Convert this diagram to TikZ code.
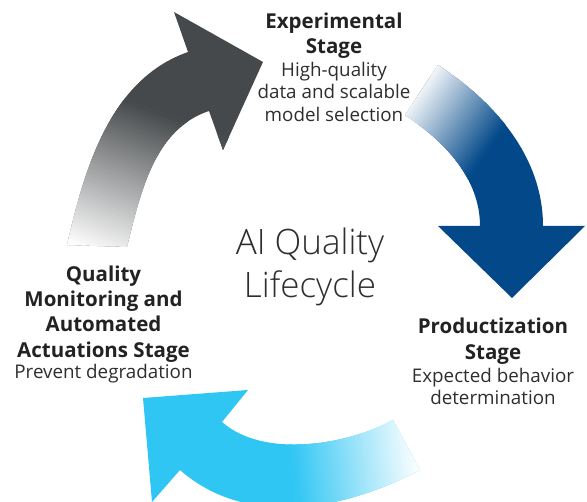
\documentclass[tikz,border=0pt]{standalone}
\usepackage{fontspec}
\setmainfont{Open Sans}
\newfontfamily\lightfont{Open Sans Light}
\usetikzlibrary{calc}
\definecolor{arrgray}{HTML}{46494B}
\definecolor{arrblue}{HTML}{03498A}
\definecolor{arrcyan}{HTML}{30C6F4}
\definecolor{txtdark}{HTML}{222222}
\definecolor{txtbody}{HTML}{2E2E2E}
\newcommand\gradshape[4]{%
  \begin{scope}
    \clip #1;
    \fill[#2] (-10,-10) rectangle (600,520);
    \path ($(#3)!-6!(#4)$) coordinate (g0) ($(#3)!0.01!(#4)$) coordinate (g0b);
    \fill[white] ($(g0)!900pt!90:(g0b)$) -- ($(g0b)!900pt!-90:(g0)$) -- ($(g0b)!900pt!90:(g0)$) -- ($(g0)!900pt!-90:(g0b)$) -- cycle;
    \foreach \k in {0,...,49}{
      \pgfmathsetmacro\ta{\k/50}
      \pgfmathsetmacro\tb{(\k+1.5)/50}
      \pgfmathtruncatemacro\pc{round(100*(\k+0.5)/50)}
      \path ($(#3)!\ta!(#4)$) coordinate (g1) ($(#3)!\tb!(#4)$) coordinate (g2);
      \fill[#2!\pc!white] ($(g1)!500pt!90:(g2)$) -- ($(g2)!500pt!-90:(g1)$) -- ($(g2)!500pt!90:(g1)$) -- ($(g1)!500pt!-90:(g2)$) -- cycle;
    }
  \end{scope}}
\def\grayshape{(67,245) .. controls (85,166) and (111,79) .. (188,52) -- (174,12) -- (263,62) -- (223,150) -- (209,111) .. controls (155,129) and (141,190) .. (127,247) -- cycle}
\def\blueshape{(438,65) .. controls (495,102) and (543,157) .. (543,226) -- (585,226) -- (512,298) -- (438,226) -- (480,226) .. controls (480,178) and (444,141) .. (405,115) -- cycle}
\def\cyanshape{(393,420) .. controls (345,446) and (263,458) .. (222,422) -- (248,390) -- (143,398) -- (152,502) -- (180,470) .. controls (246,528) and (343,511) .. (420,470) -- cycle}
\tikzset{
  ttl/.style={font=\fontsize{20.5}{24}\selectfont\bfseries, text=txtdark, anchor=base, inner sep=0pt},
  dsc/.style={font=\fontsize{18.8}{22}\selectfont, text=txtbody, anchor=base, inner sep=0pt},
  bigt/.style={font=\lightfont\fontsize{35}{40}\selectfont, text=txtbody, anchor=base, inner sep=0pt}
}
\begin{document}
\begin{tikzpicture}[x=1pt,y=-1pt]
\useasboundingbox (0,0) rectangle (587,502);
\clip (0,0) rectangle (587,502);
% gradient reference points
\coordinate (grA) at (85,250);
\coordinate (grB) at (140,105);
\coordinate (blA) at (418,86);
\coordinate (blB) at (495,140);
\coordinate (cyA) at (418,448);
\coordinate (cyB) at (292,462);
\gradshape{\grayshape}{arrgray}{grA}{grB}
\gradshape{\blueshape}{arrblue}{blA}{blB}
\gradshape{\cyanshape}{arrcyan}{cyA}{cyB}
% Experimental
\node[ttl] (e1) at (334,29) {Experimental};
\node[ttl] (e2) at (334,53.5) {Stage};
\node[dsc] (e3) at (334,77) {High-quality};
\node[dsc] (e4) at (334,99) {data and scalable};
\node[dsc] (e5) at (334,121.5) {model selection};
% Productization
\node[ttl] (p1) at (493,334) {Productization};
\node[ttl] (p2) at (493,360) {Stage};
\node[dsc] (p3) at (493,383) {Expected behavior};
\node[dsc] (p4) at (493,404.5) {determination};
% Quality monitoring
\node[ttl] (q1) at (103.5,281.5) {Quality};
\node[ttl] (q2) at (103.5,306.5) {Monitoring and};
\node[ttl] (q3) at (103.5,332) {Automated};
\node[ttl] (q4) at (103.5,357.5) {Actuations Stage};
\node[dsc] (q5) at (103.5,378.5) {Prevent degradation};
% center
\node[bigt] (c1) at (310,255) {AI Quality};
\node[bigt] (c2) at (310,298) {Lifecycle};
\end{tikzpicture}
\end{document}
